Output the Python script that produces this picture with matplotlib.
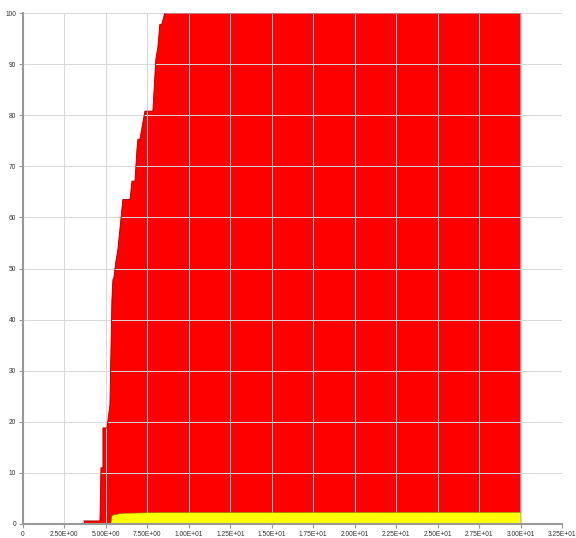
import matplotlib
matplotlib.use("Agg")
from matplotlib import pyplot as plt

# cumulative curve (red)
red_x = [3.67, 3.67, 4.64, 4.70, 4.82, 4.82, 5.06, 5.24, 5.36, 5.42, 5.48,
         5.60, 5.72, 5.84, 6.02, 6.45, 6.57, 6.75, 6.87, 6.93, 7.05, 7.35,
         7.83, 8.01, 8.13, 8.25, 8.37, 8.55, 30.0]
red_y = [0.0, 0.6, 0.6, 11.0, 11.0, 18.8, 18.8, 23.3, 43.9, 47.8, 48.2,
         51.4, 53.7, 57.6, 63.5, 63.5, 67.1, 67.1, 73.3, 75.3, 75.3, 80.8,
         80.8, 91.0, 93.3, 97.8, 97.8, 100.0, 100.0]

# lower curve (yellow)
yel_x = [4.64, 5.30, 5.36, 5.48, 6.02, 8.37, 30.0]
yel_y = [0.1, 0.1, 1.6, 1.8, 2.1, 2.25, 2.3]

xticks = [i * 2.5 for i in range(14)]
xlabels = ['0'] + ['%.2E' % v for v in xticks[1:]]
yticks = list(range(0, 101, 10))

fig = plt.figure(figsize=(5.76, 5.38), dpi=100)
ax = fig.add_axes([23 / 576, 14 / 538, 539 / 576, 511 / 538])

ax.fill_between(red_x, red_y, 0, facecolor='#ff0000', edgecolor='none', zorder=2)
ax.plot(red_x[1:], red_y[1:], color='#990000', lw=0.6, zorder=3)
ax.fill_between(yel_x, yel_y, 0, facecolor='#ffff00', edgecolor='none', zorder=4)
ax.plot(yel_x, yel_y, color='#777700', lw=0.4, zorder=5)

ax.set_xlim(0, 32.5)
ax.set_ylim(0, 100)
ax.set_xticks(xticks)
ax.set_xticklabels(xlabels)
ax.set_yticks(yticks)

ax.grid(True, color='#d8d8d8', lw=0.7, zorder=6)
ax.set_axisbelow(False)
for s in ['top', 'right']:
    ax.spines[s].set_visible(False)
for s in ['left', 'bottom']:
    ax.spines[s].set_color('#999999')
    ax.spines[s].set_linewidth(1.5)
    ax.spines[s].set_zorder(7)

ax.tick_params(axis='both', length=3, width=0.8, color='#999999',
               labelsize=4.8, labelcolor='#333333', pad=2)
for lab in ax.get_xticklabels() + ax.get_yticklabels():
    lab.set_family('Liberation Sans')

fig.savefig('out.png', dpi=100)
